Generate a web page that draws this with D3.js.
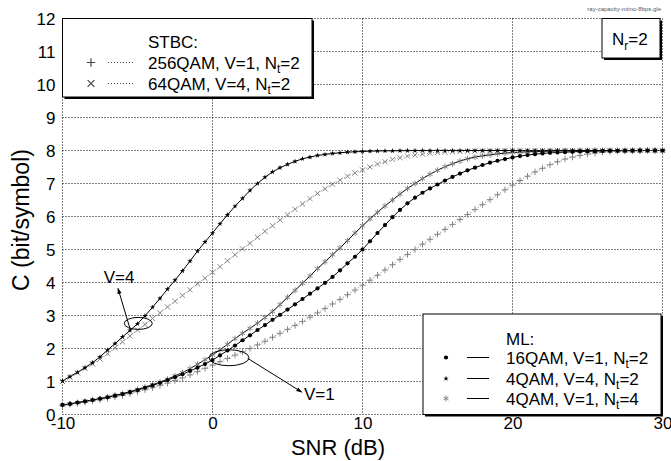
<!DOCTYPE html>
<html>
<head>
<meta charset="utf-8">
<script src="https://cdn.jsdelivr.net/npm/d3@7"></script>
<style>
  html, body { margin: 0; padding: 0; background: #fff; }
  svg { display: block; font-family: "Liberation Sans", Arial, Helvetica, sans-serif; }
</style>
</head>
<body>
<svg id="chart" width="671" height="461"></svg>
<script>
// SNR grid (dB), one point every 0.5 dB
const snr = [
  -10, -9.5, -9, -8.5, -8, -7.5, -7, -6.5, -6, -5.5, -5, -4.5, -4, -3.5, -3, -2.5, -2, -1.5, -1, -0.5,
  0, 0.5, 1, 1.5, 2, 2.5, 3, 3.5, 4, 4.5, 5, 5.5, 6, 6.5, 7, 7.5, 8, 8.5, 9, 9.5,
  10, 10.5, 11, 11.5, 12, 12.5, 13, 13.5, 14, 14.5, 15, 15.5, 16, 16.5, 17, 17.5, 18, 18.5, 19, 19.5,
  20, 20.5, 21, 21.5, 22, 22.5, 23, 23.5, 24, 24.5, 25, 25.5, 26, 26.5, 27, 27.5, 28, 28.5, 29, 29.5, 30
];

// ML, 16QAM, V=1, Nt=2
const ml16qamV1Nt2 = [
  0.29, 0.32, 0.36, 0.40, 0.44, 0.48, 0.52, 0.57, 0.62, 0.68, 0.74, 0.81, 0.88, 0.96, 1.04, 1.13, 1.22, 1.32, 1.42, 1.53,
  1.65, 1.79, 1.94, 2.09, 2.25, 2.40, 2.56, 2.71, 2.87, 3.02, 3.18, 3.34, 3.50, 3.66, 3.82, 3.99, 4.17, 4.37, 4.58, 4.78,
  5.00, 5.25, 5.50, 5.74, 5.98, 6.20, 6.40, 6.57, 6.72, 6.85, 6.97, 7.09, 7.20, 7.30, 7.40, 7.48, 7.56, 7.63, 7.69, 7.74,
  7.79, 7.83, 7.86, 7.89, 7.91, 7.93, 7.94, 7.95, 7.96, 7.97, 7.975, 7.98, 7.985, 7.99, 7.99, 7.993, 7.995, 7.997, 8.0, 8.0, 8.0
];

// ML, 4QAM, V=4, Nt=2
const ml4qamV4Nt2 = [
  1.02, 1.15, 1.28, 1.42, 1.57, 1.75, 1.95, 2.15, 2.35, 2.55, 2.75, 2.99, 3.25, 3.52, 3.80, 4.07, 4.35, 4.65, 4.95, 5.23,
  5.50, 5.78, 6.05, 6.31, 6.55, 6.79, 7.00, 7.19, 7.35, 7.48, 7.58, 7.67, 7.75, 7.80, 7.85, 7.88, 7.91, 7.93, 7.95, 7.96,
  7.97, 7.98, 7.985, 7.99, 7.99, 7.993, 7.995, 7.997, 8.0, 8.0, 8.0, 8.0, 8.0, 8.0, 8.0, 8.0, 8.0, 8.0, 8.0, 8.0,
  8.0, 8.0, 8.0, 8.0, 8.0, 8.0, 8.0, 8.0, 8.0, 8.0, 8.0, 8.0, 8.0, 8.0, 8.0, 8.0, 8.0, 8.0, 8.0, 8.0, 8.0
];

// ML, 4QAM, V=1, Nt=4
const ml4qamV1Nt4 = [
  0.29, 0.32, 0.36, 0.40, 0.44, 0.48, 0.53, 0.58, 0.63, 0.69, 0.76, 0.83, 0.90, 0.98, 1.07, 1.17, 1.27, 1.39, 1.52, 1.66,
  1.80, 1.96, 2.13, 2.30, 2.46, 2.61, 2.77, 2.94, 3.12, 3.33, 3.55, 3.76, 3.98, 4.20, 4.42, 4.63, 4.84, 5.05, 5.27, 5.50,
  5.72, 5.93, 6.13, 6.32, 6.50, 6.68, 6.85, 7.00, 7.15, 7.28, 7.40, 7.51, 7.60, 7.68, 7.75, 7.80, 7.84, 7.87, 7.90, 7.92,
  7.94, 7.95, 7.96, 7.97, 7.975, 7.98, 7.985, 7.99, 7.99, 7.995, 8.0, 8.0, 8.0, 8.0, 8.0, 8.0, 8.0, 8.0, 8.0, 8.0, 8.0
];

// STBC, 256QAM, V=1, Nt=2
const stbc256qamV1Nt2 = [
  0.28, 0.31, 0.34, 0.37, 0.41, 0.45, 0.49, 0.53, 0.58, 0.63, 0.69, 0.75, 0.81, 0.88, 0.95, 1.03, 1.11, 1.20, 1.30, 1.40,
  1.50, 1.60, 1.70, 1.80, 1.90, 2.00, 2.11, 2.22, 2.34, 2.46, 2.58, 2.70, 2.82, 2.95, 3.08, 3.21, 3.35, 3.49, 3.63, 3.77,
  3.92, 4.07, 4.22, 4.38, 4.54, 4.70, 4.85, 5.00, 5.16, 5.31, 5.46, 5.61, 5.76, 5.91, 6.06, 6.21, 6.36, 6.51, 6.66, 6.81,
  6.95, 7.09, 7.22, 7.35, 7.46, 7.57, 7.66, 7.74, 7.80, 7.85, 7.89, 7.92, 7.95, 7.97, 7.98, 7.985, 7.99, 7.995, 8.0, 8.0, 8.0
];

// STBC, 64QAM, V=4, Nt=2
const stbc64qamV4Nt2 = [
  1.00, 1.13, 1.26, 1.39, 1.53, 1.68, 1.84, 2.02, 2.20, 2.38, 2.56, 2.73, 2.91, 3.08, 3.26, 3.43, 3.61, 3.78, 3.96, 4.13,
  4.31, 4.48, 4.66, 4.84, 5.02, 5.19, 5.37, 5.55, 5.72, 5.89, 6.05, 6.22, 6.38, 6.54, 6.70, 6.84, 6.98, 7.10, 7.22, 7.32,
  7.41, 7.50, 7.59, 7.66, 7.73, 7.78, 7.83, 7.86, 7.89, 7.92, 7.94, 7.95, 7.96, 7.97, 7.98, 7.985, 7.99, 7.99, 7.995, 7.997,
  8.0, 8.0, 8.0, 8.0, 8.0, 8.0, 8.0, 8.0, 8.0, 8.0, 8.0, 8.0, 8.0, 8.0, 8.0, 8.0, 8.0, 8.0, 8.0, 8.0, 8.0
];

const xTicks = [-10, 0, 10, 20, 30];
const yTicks = [0, 1, 2, 3, 4, 5, 6, 7, 8, 9, 10, 11, 12];

const svg = d3.select("#chart");
const plotLeft = 62.5, plotRight = 662.5, plotTop = 18.5, plotBottom = 414.5;
const x = d3.scaleLinear().domain([-10, 30]).range([plotLeft, plotRight]);
const y = d3.scaleLinear().domain([0, 12]).range([plotBottom, plotTop]);

const DOT = "1,2";
const GRAY = "#7a7a7a";

// dotted grid, including the frame
const grid = svg.append("g");
grid.selectAll("line.h").data(yTicks).join("line")
  .attr("x1", plotLeft).attr("x2", plotRight)
  .attr("y1", d => y(d)).attr("y2", d => y(d))
  .attr("stroke", "#000").attr("stroke-width", 1).attr("stroke-dasharray", DOT);
grid.selectAll("line.v").data(xTicks).join("line")
  .attr("y1", plotTop).attr("y2", plotBottom)
  .attr("x1", d => x(d)).attr("x2", d => x(d))
  .attr("stroke", "#000").attr("stroke-width", 1).attr("stroke-dasharray", DOT);

// axes (labels only, plain hyphen for negatives)
const xAxis = svg.append("g").attr("transform", `translate(0,${plotBottom})`)
  .call(d3.axisBottom(x).tickValues(xTicks).tickSize(0).tickPadding(2).tickFormat(d => String(d)));
xAxis.select(".domain").remove();
xAxis.selectAll("text").attr("font-size", 17).attr("font-family", "Liberation Sans, Arial, sans-serif").attr("fill", "#000");

const yAxis = svg.append("g").attr("transform", `translate(${plotLeft},0)`)
  .call(d3.axisLeft(y).tickValues(yTicks).tickSize(0).tickPadding(7).tickFormat(d => String(d)));
yAxis.select(".domain").remove();
yAxis.selectAll("text").attr("font-size", 17).attr("font-family", "Liberation Sans, Arial, sans-serif").attr("fill", "#000")
  .attr("dy", "0.36em");

// axis titles
svg.append("text").attr("x", 338).attr("y", 455).attr("text-anchor", "middle")
  .attr("font-size", 22).text("SNR (dB)");
svg.append("text").attr("transform", "translate(29,220) rotate(-90)").attr("text-anchor", "middle")
  .attr("font-size", 23).text("C (bit/symbol)");

// file tag
svg.append("text").attr("x", 661).attr("y", 11).attr("text-anchor", "end")
  .attr("font-size", 6).attr("fill", "#555").text("ray-capacity-mimo-8bps.gle");

// marker shapes
const markers = {
  dot: (g) => g.append("circle").attr("r", 2.1).attr("fill", "#000"),
  star: (g) => g.append("path").attr("d", d3.symbol(d3.symbolStar, 9)()).attr("fill", "#000"),
  asterisk: (g) => g.append("path").attr("d", "M0,-3V3M-2.6,-1.5L2.6,1.5M-2.6,1.5L2.6,-1.5")
    .attr("stroke", GRAY).attr("stroke-width", 0.9).attr("fill", "none"),
  cross: (g) => g.append("path").attr("d", "M-2.6,-2.6L2.6,2.6M-2.6,2.6L2.6,-2.6")
    .attr("stroke", GRAY).attr("stroke-width", 0.9).attr("fill", "none"),
  plus: (g) => g.append("path").attr("d", "M-3.2,0H3.2M0,-3.2V3.2")
    .attr("stroke", GRAY).attr("stroke-width", 0.9).attr("fill", "none")
};

const series = [
  { values: stbc256qamV1Nt2, line: "dotted", marker: "plus" },
  { values: stbc64qamV4Nt2, line: "dotted", marker: "cross" },
  { values: ml4qamV1Nt4, line: "solid", marker: "asterisk" },
  { values: ml16qamV1Nt2, line: "solid", marker: "dot" },
  { values: ml4qamV4Nt2, line: "solid", marker: "star" }
];

const lineGen = d3.line().x(d => x(d[0])).y(d => y(d[1]));
const plot = svg.append("g");
series.forEach(s => {
  const pts = snr.map((v, i) => [v, s.values[i]]);
  plot.append("path").datum(pts).attr("d", lineGen).attr("fill", "none")
    .attr("stroke", s.line === "solid" ? "#000" : GRAY)
    .attr("stroke-width", 1)
    .attr("stroke-dasharray", s.line === "solid" ? null : "1,2");
});
series.forEach(s => {
  const pts = snr.map((v, i) => [v, s.values[i]]);
  plot.append("g").selectAll("g").data(pts).join("g")
    .attr("transform", d => `translate(${x(d[0])},${y(d[1])})`)
    .each(function () { markers[s.marker](d3.select(this)); });
});

// annotations: V=4 and V=1 groups
const ann = svg.append("g").attr("fill", "none").attr("stroke", "#000").attr("stroke-width", 1);
ann.append("ellipse").attr("cx", x(-4.95)).attr("cy", y(2.76)).attr("rx", 14).attr("ry", 6);
ann.append("ellipse").attr("cx", x(1.1)).attr("cy", y(1.72)).attr("rx", 20).attr("ry", 8);

svg.append("defs").append("marker").attr("id", "arrow").attr("viewBox", "0 0 10 10")
  .attr("refX", 9).attr("refY", 5).attr("markerWidth", 7).attr("markerHeight", 6)
  .attr("markerUnits", "userSpaceOnUse").attr("orient", "auto")
  .append("path").attr("d", "M0,1.5L10,5L0,8.5Z").attr("fill", "#000");

ann.append("line").attr("x1", x(-5.5)).attr("y1", y(2.6)).attr("x2", x(-6.3)).attr("y2", y(3.82))
  .attr("marker-end", "url(#arrow)");
ann.append("line").attr("x1", x(2.35)).attr("y1", y(1.7)).attr("x2", x(5.95)).attr("y2", y(0.68))
  .attr("marker-end", "url(#arrow)");

svg.append("text").attr("x", x(-7.25)).attr("y", y(3.98)).attr("font-size", 17).text("V=4");
svg.append("text").attr("x", x(6.1)).attr("y", y(0.45)).attr("font-size", 17).text("V=1");

// legend helpers
function shadowBox(x0, y0, x1, y1) {
  svg.append("rect").attr("x", x0 + 2).attr("y", y0 + 2).attr("width", x1 - x0).attr("height", y1 - y0).attr("fill", "#000");
  svg.append("rect").attr("x", x0).attr("y", y0).attr("width", x1 - x0).attr("height", y1 - y0)
    .attr("fill", "#fff").attr("stroke", "#000").attr("stroke-width", 1);
}
function subLabel(g, tx, ty, pre, sub, post, size) {
  const t = g.append("text").attr("x", tx).attr("y", ty).attr("font-size", size).attr("fill", "#000");
  t.append("tspan").text(pre);
  t.append("tspan").attr("font-size", size * 0.7).attr("dy", size * 0.28).text(sub);
  t.append("tspan").attr("dy", -size * 0.28).text(post);
}

// STBC legend
const stbcRows = [
  { marker: "plus", pre: "256QAM, V=1, N", sub: "t", post: "=2" },
  { marker: "cross", pre: "64QAM, V=4, N", sub: "t", post: "=2" }
];
shadowBox(62.5, 18.5, 312, 97);
const lg1 = svg.append("g");
lg1.append("text").attr("x", 148).attr("y", 48).attr("font-size", 17).text("STBC:");
stbcRows.forEach((r, i) => {
  const cy = 62.5 + i * 21;
  const m = lg1.append("g").attr("transform", `translate(91,${cy})`);
  markers[r.marker](m);
  m.select("path").attr("stroke", "#444").attr("transform", "scale(1.3)");
  lg1.append("line").attr("x1", 108).attr("x2", 134).attr("y1", cy).attr("y2", cy)
    .attr("stroke", "#444").attr("stroke-dasharray", "1,2");
  subLabel(lg1, 148, cy + 6, r.pre, r.sub, r.post, 17);
});

// ML legend
const mlRows = [
  { marker: "dot", pre: "16QAM, V=1, N", sub: "t", post: "=2" },
  { marker: "star", pre: "4QAM, V=4, N", sub: "t", post: "=2" },
  { marker: "asterisk", pre: "4QAM, V=1, N", sub: "t", post: "=4" }
];
shadowBox(423, 314, 661, 414.5);
const lg2 = svg.append("g");
lg2.append("text").attr("x", 506).attr("y", 345).attr("font-size", 17).text("ML:");
mlRows.forEach((r, i) => {
  const cy = Math.round(357 + i * 20.5) + 0.5;
  const m = lg2.append("g").attr("transform", `translate(446,${cy})`);
  markers[r.marker](m);
  lg2.append("line").attr("x1", 467).attr("x2", 489).attr("y1", cy).attr("y2", cy)
    .attr("stroke", "#000");
  subLabel(lg2, 506, cy + 6, r.pre, r.sub, r.post, 17);
});

// receive antennas box
shadowBox(602, 18.5, 660, 58);
subLabel(svg.append("g"), 612, 45, "N", "r", "=2", 17);
</script>
</body>
</html>
